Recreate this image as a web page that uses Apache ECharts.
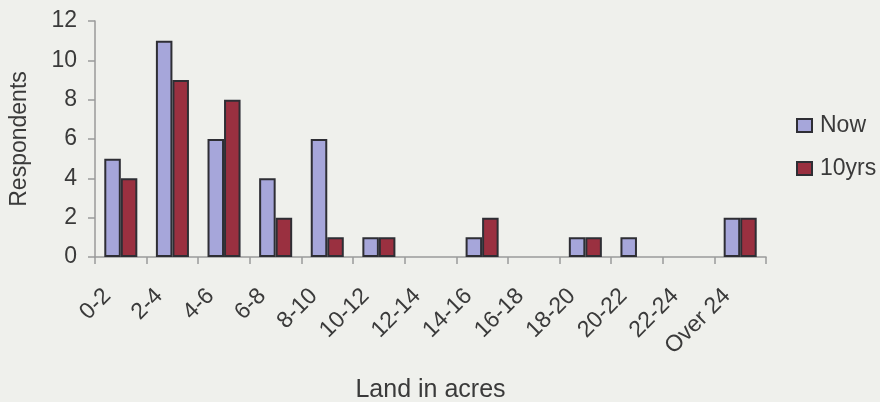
<!DOCTYPE html>
<html>
<head>
<meta charset="utf-8">
<script src="https://cdn.jsdelivr.net/npm/echarts@6/dist/echarts.min.js"></script>
<style>
  html, body { margin: 0; padding: 0; background: #eff0ec; }
  #chart { width: 880px; height: 402px; }
</style>
</head>
<body>
<div id="chart"></div>
<script>
// Land size classes (acres)
const categories = ['0-2', '2-4', '4-6', '6-8', '8-10', '10-12', '12-14', '14-16', '16-18', '18-20', '20-22', '22-24', 'Over 24'];
// Respondents per class, today and in ten years
const nowValues = [5, 11, 6, 4, 6, 1, 0, 1, 0, 1, 1, 0, 2];
const tenYrsValues = [4, 9, 8, 2, 1, 1, 0, 2, 0, 1, 0, 0, 2];
const yTicks = { min: 0, max: 12, interval: 2 };

const font = 'Liberation Sans, Arial, sans-serif';
const textColor = '#3a3a3a';
const axisColor = '#9a9a9a';

// empty classes get no outlined sliver on the axis
const barData = values => values.map(v => (v === 0 ? { value: v, itemStyle: { opacity: 0 } } : v));

const chart = echarts.init(document.getElementById('chart'));

chart.setOption({
  backgroundColor: '#eff0ec',
  animation: false,
  grid: { left: 95, right: 114, top: 21, bottom: 145, outerBoundsMode: 'none', containLabel: false },
  legend: {
    orient: 'vertical',
    left: 791,
    top: 109,
    icon: 'rect',
    itemWidth: 15,
    itemHeight: 13,
    itemGap: 20,
    textStyle: { fontFamily: font, fontSize: 23, color: textColor, padding: [0, 0, 0, 3] },
    data: ['Now', '10yrs']
  },
  xAxis: {
    type: 'category',
    data: categories,
    name: 'Land in acres',
    nameLocation: 'middle',
    nameGap: 121,
    nameTextStyle: { fontFamily: font, fontSize: 25, color: textColor },
    axisLine: { lineStyle: { color: axisColor, width: 1.5 } },
    axisTick: { show: true, length: 7, lineStyle: { color: axisColor, width: 1.5 } },
    axisLabel: {
      rotate: 45, fontFamily: font, fontSize: 23, color: textColor,
      margin: 22, interval: 0, padding: [0, 19, 0, 0]
    },
    splitLine: { show: false }
  },
  yAxis: {
    type: 'value',
    min: yTicks.min,
    max: yTicks.max,
    interval: yTicks.interval,
    name: 'Respondents',
    nameLocation: 'middle',
    nameGap: 64,
    nameTextStyle: { fontFamily: font, fontSize: 23, color: textColor },
    axisLine: { show: true, lineStyle: { color: axisColor, width: 1.5 } },
    axisTick: { show: true, length: 7, lineStyle: { color: axisColor, width: 1.5 } },
    axisLabel: { fontFamily: font, fontSize: 23, color: textColor, margin: 18 },
    splitLine: { show: false }
  },
  series: [
    {
      name: 'Now',
      type: 'bar',
      data: barData(nowValues),
      barGap: '0%',
      barCategoryGap: '36%',
      itemStyle: { color: '#a6a6da', borderColor: '#2e2e34', borderWidth: 2 }
    },
    {
      name: '10yrs',
      type: 'bar',
      data: barData(tenYrsValues),
      itemStyle: { color: '#9a3040', borderColor: '#2e2e34', borderWidth: 2 }
    }
  ]
});
</script>
</body>
</html>
